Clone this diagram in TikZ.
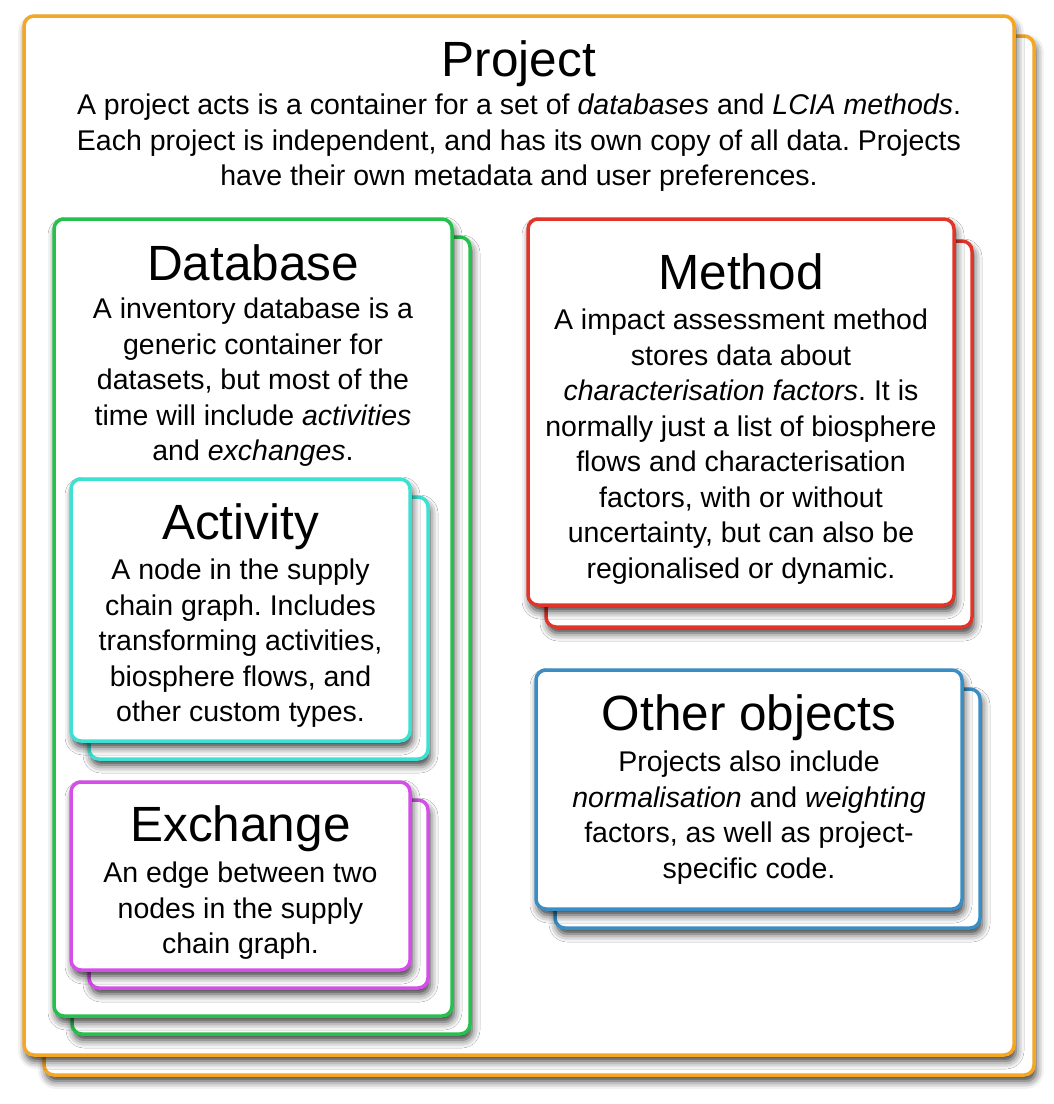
\documentclass[tikz,border=0pt]{standalone}
\usepackage{fontspec}
\setmainfont{Liberation Sans}
\usetikzlibrary{shadows.blur}

\definecolor{projorange}{HTML}{F5A623}
\definecolor{dbgreen}{HTML}{27C04E}
\definecolor{actcyan}{HTML}{3EE0D2}
\definecolor{exmagenta}{HTML}{D44FE8}
\definecolor{methred}{HTML}{E2352A}
\definecolor{othblue}{HTML}{3A8EC4}

\tikzset{
  card/.style={draw=#1, fill=white, line width=3.5pt, rounded corners=10pt,
    blur shadow={shadow xshift=2pt, shadow yshift=-6pt, shadow blur radius=8pt, shadow opacity=80}},
  cardtitle/.style={anchor=base, font=\fontsize{49.5}{59}\selectfont},
  cardtext/.style={anchor=north, align=center, inner sep=0pt, font=\fontsize{28.5}{35.5}\selectfont},
}

\begin{document}
\frenchspacing
\begin{tikzpicture}[x=1pt, y=-1pt]
\useasboundingbox (0,0) rectangle (1054,1104);

% Project: the outer container
\draw[card=projorange] (44,36) rectangle (1034,1075);
\draw[card=projorange] (24,16) rectangle (1014,1055);
\node[cardtitle] (project) at (519,76) {Project};
\node[cardtext] (projecttext) at (519,94) {A project acts is a container for a set of \textit{databases} and \textit{LCIA methods}.\\
  Each project is independent, and has its own copy of all data. Projects\\
  have their own metadata and user preferences.};

% Database, with activities and exchanges inside
\draw[card=dbgreen] (72,237) rectangle (470,1034);
\draw[card=dbgreen] (54,219) rectangle (452,1016);
\node[cardtitle] (database) at (253,280) {Database};
\node[cardtext] (databasetext) at (253,298) {A inventory database is a\\
  generic container for\\
  datasets, but most of the\\
  time will include \textit{activities}\\
  and \textit{exchanges}.};

\draw[card=actcyan] (89,497) rectangle (428,759);
\draw[card=actcyan] (71,479) rectangle (410,741);
\node[cardtitle] (activity) at (240.5,539) {Activity};
\node[cardtext] (activitytext) at (240.5,559) {A node in the supply\\
  chain graph. Includes\\
  transforming activities,\\
  biosphere flows, and\\
  other custom types.};

\draw[card=exmagenta] (89,800) rectangle (428,988);
\draw[card=exmagenta] (71,782) rectangle (410,970);
\node[cardtitle] (exchange) at (240.5,841) {Exchange};
\node[cardtext] (exchangetext) at (240.5,862) {An edge between two\\
  nodes in the supply\\
  chain graph.};

% Method
\draw[card=methred] (546,241) rectangle (972,627);
\draw[card=methred] (528,219) rectangle (954,605);
\node[cardtitle] (method) at (741,289) {Method};
\node[cardtext] (methodtext) at (741,309) {A impact assessment method\\
  stores data about\\
  \textit{characterisation factors}. It is\\
  normally just a list of biosphere\\
  flows and characterisation\\
  factors, with or without\\
  uncertainty, but can also be\\
  regionalised or dynamic.};

% Other objects
\draw[card=othblue] (555,689) rectangle (980,928);
\draw[card=othblue] (536,670) rectangle (962,909);
\node[cardtitle] (other) at (749,730) {Other objects};
\node[cardtext] (othertext) at (749,751) {Projects also include\\
  \textit{normalisation} and \textit{weighting}\\
  factors, as well as project-\\
  specific code.};
\end{tikzpicture}
\end{document}
